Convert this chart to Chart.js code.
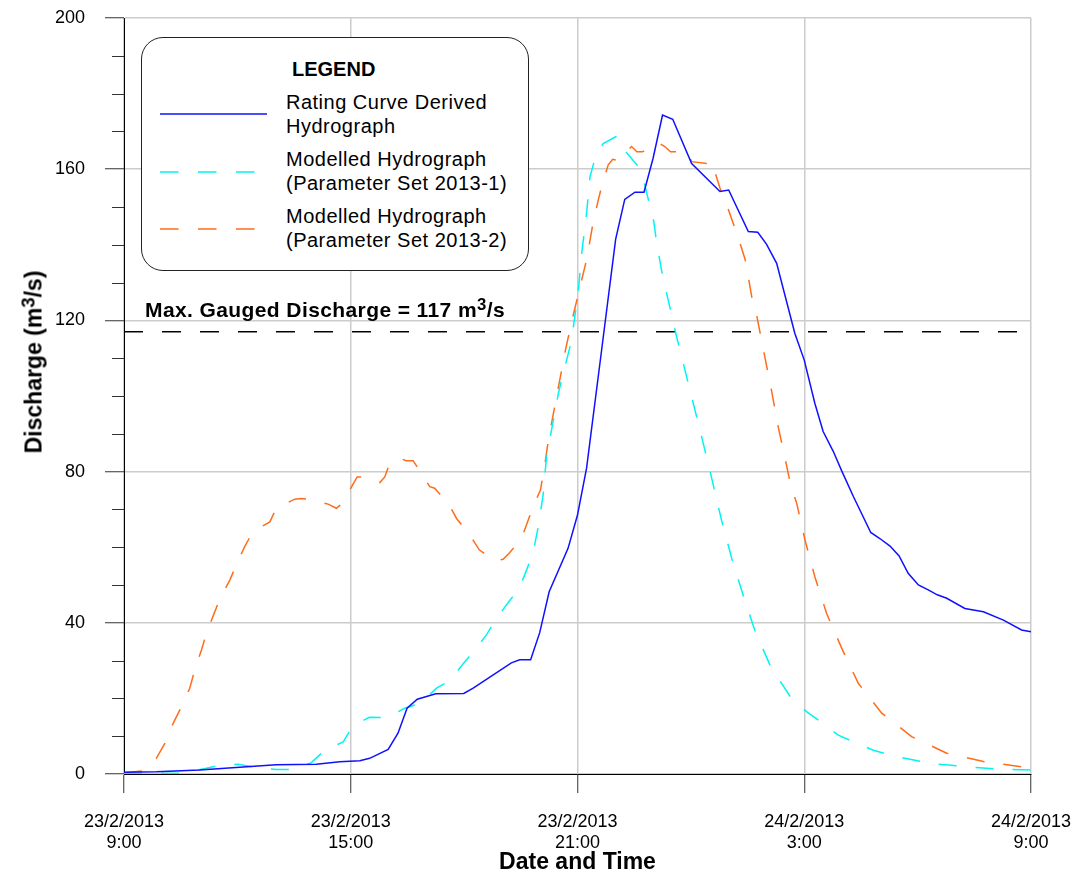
<!DOCTYPE html>
<html>
<head>
<meta charset="utf-8">
<title>Discharge hydrographs 23-24/2/2013</title>
<script src="https://cdn.jsdelivr.net/npm/chart.js@4.4.1/dist/chart.umd.min.js"></script>
<style>
  body { margin: 0; background: #fff; font-family: "Liberation Sans", Arial, sans-serif; }
  #wrap { position: relative; width: 1072px; height: 877px; }
  #yTitle {
    position: absolute; left: 34px; top: 362px;
    transform: translate(-50%, -50%) rotate(-90deg);
    white-space: nowrap; font-weight: bold; font-size: 23px; line-height: 23px; color: #000;
  }
  #maxLabel {
    position: absolute; left: 145px; top: 299px;
    white-space: nowrap; font-weight: bold; font-size: 21px; line-height: 21px;
    letter-spacing: 0.4px; color: #000;
  }
  sup { font-size: 0.8em; vertical-align: 0.4em; line-height: 0; }
  #legend {
    position: absolute; left: 141px; top: 37px; width: 386px; height: 232px;
    border: 1px solid #222; border-radius: 22px; background: #fff;
  }
  #legend .head { position: absolute; left: 150px; top: 21px; font-weight: bold; font-size: 20px; line-height: 20px; }
  #legend .item { position: absolute; left: 144px; font-size: 20px; line-height: 24.4px; letter-spacing: 0.5px; white-space: nowrap; }
  #legend svg { position: absolute; left: 0; top: 0; }
</style>
</head>
<body>
<div id="wrap">
  <canvas id="hydroChart" width="1072" height="877"></canvas>
  <div id="yTitle">Discharge (m<sup>3</sup>/s)</div>
  <div id="maxLabel">Max. Gauged Discharge = 117 m<sup>3</sup>/s</div>
  <div id="legend">
    <svg width="386" height="232">
      <line x1="18" y1="76" x2="125" y2="76" stroke="#1010ff" stroke-width="1.5"/>
      <line x1="18" y1="134" x2="114" y2="134" stroke="#00f4f4" stroke-width="1.5" stroke-dasharray="18.5 19.5"/>
      <line x1="18" y1="191" x2="114" y2="191" stroke="#ff6c1a" stroke-width="1.5" stroke-dasharray="18.5 19.5"/>
    </svg>
    <div class="head">LEGEND</div>
    <div class="item" style="top:52px">Rating Curve Derived<br>Hydrograph</div>
    <div class="item" style="top:109px">Modelled Hydrograph<br>(Parameter Set 2013-1)</div>
    <div class="item" style="top:166px">Modelled Hydrograph<br>(Parameter Set 2013-2)</div>
  </div>
</div>
<script>
// hours after 23/2/2013 9:00
var timeLabels = [['23/2/2013', '9:00'], ['23/2/2013', '15:00'], ['23/2/2013', '21:00'], ['24/2/2013', '3:00'], ['24/2/2013', '9:00']];

var ratingHours = [0, 0.86, 2.0, 3.06, 4.03, 5.09, 5.71, 6.24, 6.5, 6.99, 7.25, 7.49, 7.76, 8.25, 8.99, 9.24, 9.68, 10.25, 10.47, 10.76,
    11.0, 11.25, 11.75, 12.0, 12.24, 12.64, 13.01, 13.25, 13.52, 13.76, 14.0, 14.25, 14.52, 15.02, 15.77, 16.0, 16.52, 16.77, 17.0, 17.27,
    17.75, 18.0, 18.28, 18.5, 18.77, 19.0, 19.3, 19.76, 20.0, 20.27, 20.51, 20.75, 21.02, 21.28, 21.52, 21.77, 22.25, 22.74, 23.27, 23.75, 24.0];
var ratingFlow = [0.45, 0.6, 1.06, 1.77, 2.46, 2.6, 3.25, 3.52, 4.15, 6.5, 10.8, 17.4, 19.8, 21.2, 21.3, 22.7, 25.6, 29.4, 30.2, 30.2,
    37.4, 48.2, 59.7, 68.5, 80.9, 112.3, 141.5, 152, 153.9, 153.9, 162.9, 174.3, 173.2, 161.5, 154.1, 154.5, 143.5, 143.3, 140.2, 135.1,
    116.6, 109.5, 98.1, 90.6, 85.3, 80, 73.4, 63.9, 62.3, 60.3, 57.7, 53.1, 50.0, 48.7, 47.4, 46.5, 43.8, 42.9, 40.7, 38.1, 37.6];

var model1Hours = [0, 1.47, 2.18, 2.45, 3.02, 3.46, 4.03, 4.47, 4.96, 5.31, 5.8, 6.05, 6.49, 6.95, 7.43, 7.83, 8.27, 8.62, 8.97, 9.28,
    9.59, 9.86, 10.16, 10.46, 10.67, 10.83, 10.96, 11.09, 11.18, 11.5, 11.8, 11.88, 12.02, 12.11, 12.24, 12.33, 12.49, 12.68, 13.05, 13.28,
    13.61, 13.78, 13.91, 14.02, 14.09, 14.27, 14.4, 14.6, 15.24, 15.5, 15.81, 16.08, 16.38, 16.69, 17.11, 17.66, 18.06, 18.46, 18.9, 19.3,
    19.83, 20.27, 20.8, 21.33, 21.81, 22.3, 22.83, 23.36, 24.0];
var model1Flow = [0.2, 0.2, 1.5, 2.1, 2.6, 1.8, 1.2, 1.2, 3.0, 6.3, 8.5, 12.7, 15, 14.9, 17.4, 18.7, 22.7, 24.7, 29.1, 32.8,
    36.8, 41.2, 45.3, 49.1, 54.4, 58.8, 65.4, 73.8, 83.9, 101, 113, 117.5, 127.6, 137.7, 148.3, 158, 163.8, 166.8, 168.8, 164.6,
    160.7, 155.8, 150.5, 146.1, 140.8, 130.7, 125.4, 116.6, 91, 80.4, 67.2, 57.1, 47.4, 38.1, 28.4, 20, 16.5, 13.6, 10.3, 8.5,
    6.3, 5.0, 3.9, 2.8, 2.4, 1.9, 1.5, 1.2, 1.06];

var model2Hours = [0, 0.5, 0.86, 1.08, 1.3, 1.52, 1.74, 1.87, 2.05, 2.18, 2.37, 2.53, 2.8, 2.96, 3.19, 3.41, 3.86, 4.03, 4.52, 4.7,
    4.87, 5.4, 5.62, 5.78, 6.05, 6.17, 6.33, 6.77, 6.9, 7.03, 7.3, 7.47, 7.65, 7.93, 8.09, 8.22, 8.58, 8.8, 9.15, 9.4,
    9.81, 10.03, 10.19, 10.52, 10.67, 10.87, 11.02, 11.14, 11.23, 11.45, 11.69, 11.9, 12.13, 12.24, 12.41, 12.55, 12.64, 12.81, 12.93, 13.08,
    13.43, 13.57, 13.72, 14.14, 14.31, 14.46, 14.89, 15.02, 15.42, 15.52, 15.59, 15.77, 15.95, 16.26, 16.44, 16.61, 16.73, 16.92, 17.14, 17.31,
    17.53, 17.64, 17.8, 18.02, 18.28, 18.59, 18.99, 19.43, 20.05, 20.84, 21.77, 22.74, 23.75, 24.0];
var model2Flow = [0.3, 0.8, 4.2, 8.1, 13.4, 17.8, 22.7, 27.5, 32.8, 37.2, 42.1, 46.2, 51.3, 55, 60.1, 64.1, 66.7, 70.3, 72.7, 72.9,
    72.7, 71.4, 70.3, 71.6, 76.5, 78.6, 78.6, 77.1, 78.6, 82.2, 83.5, 82.9, 82.9, 78.6, 76, 75.6, 71.6, 67.6, 63.2, 59.3,
    56.4, 56.8, 58.4, 62.3, 66.5, 71.8, 75.1, 82.2, 88.4, 100, 112.6, 121.9, 131.5, 136, 145.7, 151.9, 155.4, 161.1, 162.6, 162.3,
    166, 164.6, 164.6, 167, 166, 164.6, 164.6, 162, 161.5, 162.2, 160.7, 155, 150.5, 141.7, 136, 126.3, 121.9, 112.2, 101.1, 91.9,
    81.7, 76.5, 71.6, 61.9, 52.2, 42.5, 33.3, 24, 16.1, 9.9, 5.5, 3.3, 1.9, 1.7];

var maxGaugedFlow = 117;

function toPoints(hours, flow) {
    return hours.map(function(h, i) { return { x: h, y: flow[i] }; });
}

/**
 * Short minor ticks every 10 m3/s on the discharge axis
 */
var minorTicks = {
    id: 'minorTicks',
    afterDraw: function(chart) {
        var ctx = chart.ctx;
        var y = chart.scales.y;
        var left = chart.chartArea.left;
        ctx.save();
        ctx.strokeStyle = '#333';
        ctx.lineWidth = 1;
        for (var v = 10; v < 200; v += 10) {
            if (v % 40 === 0) continue;
            var py = Math.round(y.getPixelForValue(v)) + 0.5;
            ctx.beginPath();
            ctx.moveTo(left - 12, py);
            ctx.lineTo(left, py);
            ctx.stroke();
        }
        ctx.restore();
    }
};

var font = 'Liberation Sans, Arial, sans-serif';

new Chart(document.getElementById('hydroChart'), {
    type: 'line',
    data: {
        datasets: [
            {
                label: 'Rating Curve Derived Hydrograph',
                data: toPoints(ratingHours, ratingFlow),
                borderColor: '#1010ff',
                borderWidth: 1.5
            },
            {
                label: 'Modelled Hydrograph (Parameter Set 2013-1)',
                data: toPoints(model1Hours, model1Flow),
                borderColor: '#00f4f4',
                borderWidth: 1.5,
                borderDash: [18, 19]
            },
            {
                label: 'Modelled Hydrograph (Parameter Set 2013-2)',
                data: toPoints(model2Hours, model2Flow),
                borderColor: '#ff6c1a',
                borderWidth: 1.5,
                borderDash: [18, 19]
            },
            {
                label: 'Max. Gauged Discharge',
                data: [{ x: 0, y: maxGaugedFlow }, { x: 24, y: maxGaugedFlow }],
                borderColor: '#000',
                borderWidth: 1.5,
                borderDash: [19, 19]
            }
        ]
    },
    options: {
        responsive: false,
        animation: false,
        events: [],
        elements: { point: { radius: 0 }, line: { tension: 0, fill: false } },
        layout: { padding: { left: 0, top: 18, right: 41, bottom: 0 } },
        plugins: { legend: { display: false }, tooltip: { enabled: false } },
        scales: {
            x: {
                type: 'linear',
                min: 0,
                max: 24,
                afterFit: function(scale) {
                    scale.height = 103;
                    scale.paddingLeft = 0;
                    scale.paddingRight = 0;
                },
                ticks: {
                    stepSize: 6,
                    autoSkip: false,
                    maxRotation: 0,
                    padding: 18,
                    color: '#000',
                    font: { family: font, size: 18 },
                    callback: function(value) { return timeLabels[value / 6]; }
                },
                grid: { color: '#cccccc', lineWidth: 1.5, tickLength: 19, tickColor: '#333', tickWidth: 1 },
                border: { color: '#000', width: 1 },
                title: {
                    display: true,
                    text: 'Date and Time',
                    color: '#000',
                    font: { family: font, size: 23, weight: 'bold' },
                    padding: { top: 0, bottom: 1 }
                }
            },
            y: {
                min: 0,
                max: 200,
                afterFit: function(scale) {
                    scale.width = 124;
                    scale.paddingTop = 0;
                    scale.paddingBottom = 0;
                },
                ticks: {
                    stepSize: 40,
                    padding: 20,
                    color: '#000',
                    font: { family: font, size: 18 }
                },
                grid: { color: '#cccccc', lineWidth: 1.5, tickLength: 19, tickColor: '#333', tickWidth: 1 },
                border: { color: '#000', width: 1 }
            }
        }
    },
    plugins: [minorTicks]
});
</script>
</body>
</html>
